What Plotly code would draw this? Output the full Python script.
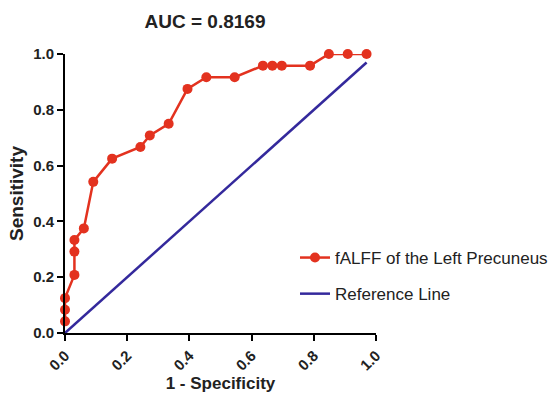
import plotly.graph_objects as go

# ROC curve data (1 - specificity, sensitivity)
fpr = [0.0, 0.0, 0.0, 0.0303, 0.0303, 0.0303, 0.0606, 0.0909, 0.1515, 0.2424,
       0.2727, 0.3333, 0.3939, 0.4545, 0.5455, 0.6364, 0.6667, 0.6970, 0.7879,
       0.8485, 0.9091, 0.9697]
tpr = [0.0417, 0.0833, 0.125, 0.2083, 0.2917, 0.3333, 0.375, 0.5417, 0.625, 0.6667,
       0.7083, 0.75, 0.875, 0.9167, 0.9167, 0.9583, 0.9583, 0.9583, 0.9583,
       1.0, 1.0, 1.0]
ref_x = [0.0, 0.9697]
ref_y = [0.0, 0.9697]
tick_vals = [0.0, 0.2, 0.4, 0.6, 0.8, 1.0]
tick_text = ["0.0", "0.2", "0.4", "0.6", "0.8", "1.0"]

FONT = "Liberation Sans, Arial, sans-serif"

fig = go.Figure()
fig.add_trace(go.Scatter(
    x=fpr, y=tpr, mode="lines+markers", name="fALFF of the Left Precuneus",
    line=dict(color="#e3321f", width=2.5),
    marker=dict(color="#e3321f", size=10),
    legendgroup="a", cliponaxis=False,
))
fig.add_trace(go.Scatter(
    x=ref_x, y=ref_y, mode="lines", name="Reference Line",
    line=dict(color="#34299c", width=2.5),
    legendgroup="b", cliponaxis=False,
))

axis_font = dict(family=FONT, size=15, color="#222222")
fig.update_layout(
    width=552, height=394,
    margin=dict(l=65, r=176, t=54, b=61, autoexpand=False),
    plot_bgcolor="white", paper_bgcolor="white",
    title=dict(text="<b>AUC = 0.8169</b>", x=205/552, xanchor="center",
               y=1 - 21/394, yanchor="middle",
               font=dict(family=FONT, size=19, color="#222222")),
    xaxis=dict(range=[0, 1], tickvals=tick_vals, ticktext=["<b>%s</b>" % t for t in tick_text],
               tickangle=-45, showline=True, linecolor="black", linewidth=2,
               ticks="outside", ticklen=6, tickwidth=2, tickcolor="black",
               showgrid=False, zeroline=False, tickfont=axis_font, automargin=False,
               title=dict(text="<b>1 - Specificity</b>", standoff=4,
                          font=dict(family=FONT, size=17, color="#222222"))),
    yaxis=dict(range=[0, 1], tickvals=tick_vals, ticktext=["<b>%s</b>" % t for t in tick_text],
               showline=True, linecolor="black", linewidth=2,
               ticks="outside", ticklen=6, tickwidth=2, tickcolor="black",
               showgrid=False, zeroline=False, tickfont=axis_font, automargin=False,
               title=dict(text="<b>Sensitivity</b>", standoff=4,
                          font=dict(family=FONT, size=19, color="#222222"))),
    legend=dict(x=(295 - 65) / 311, xanchor="left", y=(333 - 240) / 279, yanchor="top",
                bgcolor="rgba(0,0,0,0)", tracegroupgap=11, traceorder="grouped",
                font=dict(family=FONT, size=17, color="#222222")),
)

fig.write_html("out.html", config={"displayModeBar": False},
               post_script="document.body.style.margin='0';document.body.style.overflow='hidden';")
